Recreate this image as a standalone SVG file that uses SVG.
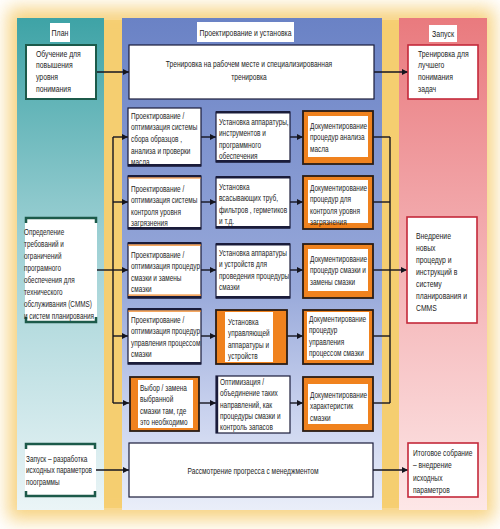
<svg xmlns="http://www.w3.org/2000/svg" width="500" height="529" viewBox="0 0 500 529">
<style>
.t{font-family:"Liberation Sans",Arial,sans-serif;font-size:9.5px;fill:#1c1c1c}
.c{text-anchor:middle}
.ln{stroke:#15151f;stroke-width:1.4;fill:none}
.arr{marker-end:url(#ah)}
.wb{fill:#fff;stroke:#1a1c3a;stroke-width:1.2}
.bar{fill:#1a1c3a}
.ob{fill:#f0821e;stroke:#2a1c14;stroke-width:1.8}
.in{fill:#fff}
.rb{fill:#fff;stroke:#c4283a;stroke-width:1.6}
.gb{fill:#fff;stroke:#1c5a4a;stroke-width:2}
.br{fill:none;stroke:#1c5a4a;stroke-width:2.5}
.ttl{fill:#fff}
</style>
<defs>
<linearGradient id="gL" x1="0" y1="0" x2="0" y2="1"><stop offset="0" stop-color="#3ea3a6"/><stop offset="0.45" stop-color="#9dd0d4"/><stop offset="1" stop-color="#ebf5f7"/></linearGradient>
<linearGradient id="gM" x1="0" y1="0" x2="0" y2="1"><stop offset="0" stop-color="#6a82c5"/><stop offset="0.55" stop-color="#98a9da"/><stop offset="0.8" stop-color="#c9d2ee"/><stop offset="1" stop-color="#eaeef9"/></linearGradient>
<linearGradient id="gR" x1="0" y1="0" x2="0" y2="1"><stop offset="0" stop-color="#e97a7e"/><stop offset="0.4" stop-color="#f2a7aa"/><stop offset="1" stop-color="#fde7e7"/></linearGradient>
<filter id="blur" x="-10%" y="-10%" width="120%" height="120%"><feGaussianBlur stdDeviation="9"/></filter>
<marker id="ah" markerWidth="6" markerHeight="6" refX="6" refY="3" orient="auto" markerUnits="userSpaceOnUse"><path d="M0,0 L6,3 L0,6 z" fill="#15151f"/></marker>
</defs>
<rect width="500" height="529" fill="#fff"/>
<rect x="8" y="8" width="486" height="512" fill="#f4c458" filter="url(#blur)" opacity="0.75"/>
<rect x="104" y="20" width="18" height="488" fill="#f5cc6a" opacity="0.7"/>
<rect x="382" y="20" width="17" height="488" fill="#f5cc6a" opacity="0.7"/>

<g id="panels">
<rect x="17" y="18" width="87" height="492" fill="url(#gL)"/>
<rect x="122" y="18" width="260" height="492" fill="url(#gM)"/>
<rect x="399" y="18" width="88" height="492" fill="url(#gR)"/>
<rect class="ttl" x="50" y="23" width="20" height="19"/>
<text class="t c" transform="translate(60,36) scale(0.74,1)">План</text>
<rect class="ttl" x="197" y="22" width="97" height="20"/>
<text class="t c" transform="translate(245.5,36) scale(0.72,1)">Проектирование и установка</text>
<rect class="ttl" x="429" y="25" width="28" height="17"/>
<text class="t c" transform="translate(443,37) scale(0.74,1)">Запуск</text>
</g>

<g id="connectors">
<line class="ln arr" x1="96" y1="72" x2="129" y2="72"/>
<line class="ln arr" x1="374" y1="72" x2="408" y2="72"/>
<line class="ln arr" x1="96" y1="470" x2="129" y2="470"/>
<line class="ln arr" x1="373" y1="470" x2="408" y2="470"/>
<line class="ln" x1="113" y1="137" x2="113" y2="403"/>
<line class="ln" x1="97" y1="270" x2="113" y2="270"/>
<line class="ln arr" x1="113" y1="137" x2="128" y2="137"/>
<line class="ln arr" x1="113" y1="202" x2="128" y2="202"/>
<line class="ln arr" x1="113" y1="270" x2="128" y2="270"/>
<line class="ln arr" x1="113" y1="336" x2="128" y2="336"/>
<line class="ln arr" x1="113" y1="403" x2="129" y2="403"/>
<line class="ln arr" x1="201" y1="137" x2="216" y2="137"/>
<line class="ln arr" x1="201" y1="202" x2="216" y2="202"/>
<line class="ln arr" x1="201" y1="270" x2="216" y2="270"/>
<line class="ln arr" x1="201" y1="336" x2="216" y2="336"/>
<line class="ln arr" x1="199" y1="403" x2="216" y2="403"/>
<line class="ln arr" x1="290" y1="137" x2="303" y2="137"/>
<line class="ln arr" x1="290" y1="202" x2="303" y2="202"/>
<line class="ln arr" x1="290" y1="270" x2="303" y2="270"/>
<line class="ln arr" x1="287" y1="336" x2="303" y2="336"/>
<line class="ln arr" x1="290" y1="403" x2="303" y2="403"/>
<line class="ln" x1="373" y1="137" x2="390" y2="137"/>
<line class="ln" x1="373" y1="202" x2="390" y2="202"/>
<line class="ln" x1="373" y1="270" x2="390" y2="270"/>
<line class="ln" x1="373" y1="336" x2="390" y2="336"/>
<line class="ln" x1="373" y1="403" x2="390" y2="403"/>
<line class="ln" x1="390" y1="137" x2="390" y2="403"/>
<line class="ln arr" x1="390" y1="270" x2="407" y2="270"/>
</g>

<g id="plan1">
<rect class="gb" x="26" y="45" width="70" height="54"/>
<text class="t" transform="translate(36,56.5) scale(0.72,1)"><tspan x="0" y="0">Обучение для</tspan><tspan x="0" y="12">повышения</tspan><tspan x="0" y="24">уровня</tspan><tspan x="0" y="36">понимания</tspan></text>
</g>
<g id="plan2">
<rect fill="#fff" x="25" y="217" width="72" height="106"/>
<path class="br" d="M26,223 V218 H96 V223 M26,317 V322 H96 V317"/>
<text class="t" transform="translate(24,235) scale(0.67,1)"><tspan x="0" y="0">Определение</tspan><tspan x="0" y="12">требований и</tspan><tspan x="0" y="24">ограничений</tspan><tspan x="0" y="36">програмного</tspan><tspan x="0" y="48">обеспечения для</tspan><tspan x="0" y="60">технического</tspan><tspan x="0" y="72">обслуживания (CMMS)</tspan><tspan x="0" y="84">и систем планирования</tspan></text>
</g>
<g id="plan3">
<rect fill="#fff" x="25" y="443" width="71" height="54"/>
<path class="br" d="M26,449 V444 H95 V449 M26,491 V496 H95 V491"/>
<text class="t" transform="translate(26,462) scale(0.68,1)"><tspan x="0" y="0">Запуск – разработка</tspan><tspan x="0" y="11.5">исходных параметров</tspan><tspan x="0" y="23">поограммы</tspan></text>
</g>

<g id="train">
<rect class="wb" x="129" y="45" width="245" height="54" stroke-width="2"/>
<text class="t c" transform="translate(249,66.5) scale(0.7,1)"><tspan x="0" y="0">Тренировка на рабочем месте и специализированная</tspan><tspan x="0" y="14">тренировка</tspan></text>
</g>

<g id="r1c1">
<rect class="wb" x="128" y="108" width="73" height="58"/>
<rect class="bar" x="128" y="164" width="73" height="2.5"/>
<text class="t" transform="translate(131,118.5) scale(0.68,1)"><tspan x="0" y="0">Проектирование /</tspan><tspan x="0" y="11.7">оптимизация системы</tspan><tspan x="0" y="23.4">сбора образцов ,</tspan><tspan x="0" y="35.1">анализа и проверки</tspan><tspan x="0" y="46.8">масла</tspan></text>
</g>
<g id="r1c2">
<rect class="wb" x="216" y="112" width="74" height="50"/>
<rect class="bar" x="216" y="111" width="74" height="2.5"/>
<rect class="bar" x="216" y="160" width="74" height="2.5"/>
<text class="t" transform="translate(219,125) scale(0.68,1)"><tspan x="0" y="0">Установка аппаратуры,</tspan><tspan x="0" y="11.5">инструментов и</tspan><tspan x="0" y="23">программного</tspan><tspan x="0" y="34.5">обеспечения</tspan></text>
</g>
<g id="r1c3">
<rect class="ob" x="303" y="111" width="70" height="53"/>
<rect class="in" x="308" y="116" width="60" height="41"/>
<text class="t" transform="translate(310,129) scale(0.68,1)"><tspan x="0" y="0">Документирование</tspan><tspan x="0" y="11.5">процедур анализа</tspan><tspan x="0" y="23">масла</tspan></text>
</g>

<g id="r2c1">
<rect class="wb" x="128" y="176" width="73" height="53"/>
<rect class="bar" x="128" y="175" width="73" height="2.5"/>
<rect x="128" y="177.5" width="73" height="1" fill="#f0821e"/>
<rect class="bar" x="128" y="227" width="73" height="2.5"/>
<text class="t" transform="translate(131,192) scale(0.68,1)"><tspan x="0" y="0">Проектирование /</tspan><tspan x="0" y="11.5">оптимизация системы</tspan><tspan x="0" y="23">контроля уровня</tspan><tspan x="0" y="34.5">загрязнения</tspan></text>
</g>
<g id="r2c2">
<rect class="wb" x="216" y="177" width="74" height="51"/>
<rect class="bar" x="216" y="176" width="74" height="2.5"/>
<rect class="bar" x="216" y="226" width="74" height="2.5"/>
<text class="t" transform="translate(219,190) scale(0.68,1)"><tspan x="0" y="0">Установка</tspan><tspan x="0" y="11.5">всасывающих труб,</tspan><tspan x="0" y="23">фильтров , герметиков</tspan><tspan x="0" y="34.5">и т.д.</tspan></text>
</g>
<g id="r2c3">
<rect class="ob" x="303" y="176" width="70" height="53"/>
<rect class="in" x="308" y="180" width="60" height="43"/>
<text class="t" transform="translate(310,191) scale(0.68,1)"><tspan x="0" y="0">Документирование</tspan><tspan x="0" y="11.5">процедур для</tspan><tspan x="0" y="23">контроля уровня</tspan><tspan x="0" y="34.5">загрязнения</tspan></text>
</g>

<g id="r3c1">
<rect class="wb" x="128" y="243" width="73" height="55"/>
<rect class="bar" x="128" y="242" width="73" height="2.5"/>
<rect x="128" y="244.5" width="73" height="1.2" fill="#f0821e"/>
<rect x="128" y="294.5" width="73" height="1.2" fill="#f0821e"/>
<rect class="bar" x="128" y="296" width="73" height="2.5"/>
<text class="t" transform="translate(131,258) scale(0.68,1)"><tspan x="0" y="0">Проектирование /</tspan><tspan x="0" y="11.5">оптимизация процедур</tspan><tspan x="0" y="23">смазки и замены</tspan><tspan x="0" y="34.5">смазки</tspan></text>
</g>
<g id="r3c2">
<rect class="wb" x="216" y="244" width="74" height="54"/>
<rect class="bar" x="216" y="243" width="74" height="2.5"/>
<rect class="bar" x="216" y="296" width="74" height="2.5"/>
<text class="t" transform="translate(219,256) scale(0.68,1)"><tspan x="0" y="0">Установка аппаратуры</tspan><tspan x="0" y="11.5">и устройств для</tspan><tspan x="0" y="23">проведения процедуры</tspan><tspan x="0" y="34.5">смазки</tspan></text>
</g>
<g id="r3c3">
<rect class="ob" x="303" y="244" width="70" height="54"/>
<rect class="in" x="308" y="249" width="60" height="42"/>
<text class="t" transform="translate(310,262) scale(0.68,1)"><tspan x="0" y="0">Документирование</tspan><tspan x="0" y="11.5">процедур смазки и</tspan><tspan x="0" y="23">замены смазки</tspan></text>
</g>

<g id="r4c1">
<rect class="wb" x="128" y="309" width="73" height="55"/>
<rect class="bar" x="128" y="308" width="73" height="2.5"/>
<rect x="128" y="310.5" width="73" height="1.2" fill="#f0821e"/>
<rect class="bar" x="128" y="362" width="73" height="2.5"/>
<text class="t" transform="translate(131,323) scale(0.68,1)"><tspan x="0" y="0">Проектирование /</tspan><tspan x="0" y="11.5">оптимизация процедур</tspan><tspan x="0" y="23">управления процессом</tspan><tspan x="0" y="34.5">смазки</tspan></text>
</g>
<g id="r4c2">
<rect class="ob" x="216" y="310" width="71" height="54"/>
<rect class="in" x="225" y="312" width="48" height="50"/>
<text class="t" transform="translate(228,325) scale(0.68,1)"><tspan x="0" y="0">Установка</tspan><tspan x="0" y="11.5">управляющей</tspan><tspan x="0" y="23">аппаратуры и</tspan><tspan x="0" y="34.5">устройств</tspan></text>
</g>
<g id="r4c3">
<rect class="ob" x="303" y="310" width="70" height="54"/>
<rect class="in" x="307" y="312" width="62" height="48"/>
<text class="t" transform="translate(309,322) scale(0.68,1)"><tspan x="0" y="0">Документирование</tspan><tspan x="0" y="11.5">процедур</tspan><tspan x="0" y="23">управления</tspan><tspan x="0" y="34.5">процессом смазки</tspan></text>
</g>

<g id="r5c1">
<rect class="ob" x="130" y="377" width="69" height="54"/>
<rect class="in" x="138" y="380" width="55" height="48"/>
<text class="t" transform="translate(140,391) scale(0.68,1)"><tspan x="0" y="0">Выбор / замена</tspan><tspan x="0" y="11.5">выбранной</tspan><tspan x="0" y="23">смазки там, где</tspan><tspan x="0" y="34.5">это необходимо</tspan></text>
</g>
<g id="r5c2">
<rect class="wb" x="216" y="376" width="74" height="57"/>
<rect class="bar" x="216" y="376" width="2.2" height="57"/>
<text class="t" transform="translate(220,385) scale(0.68,1)"><tspan x="0" y="0">Оптимизация /</tspan><tspan x="0" y="11.3">объединение таких</tspan><tspan x="0" y="22.6">направлений, как</tspan><tspan x="0" y="33.9">процедуры смазки и</tspan><tspan x="0" y="45.2">контроль запасов</tspan></text>
</g>
<g id="r5c3">
<rect class="ob" x="303" y="377" width="70" height="54"/>
<rect class="in" x="308" y="384" width="60" height="40"/>
<text class="t" transform="translate(310,398) scale(0.68,1)"><tspan x="0" y="0">Документирование</tspan><tspan x="0" y="11.5">характеристик</tspan><tspan x="0" y="23">смазки</tspan></text>
</g>

<g id="review">
<rect class="wb" x="129" y="443" width="244" height="54" stroke-width="2"/>
<text class="t c" transform="translate(253,474) scale(0.7,1)">Рассмотрение прогресса с менеджментом</text>
</g>

<g id="launch1">
<rect class="rb" x="408" y="45" width="70" height="54"/>
<text class="t" transform="translate(418,56.5) scale(0.72,1)"><tspan x="0" y="0">Тренировка для</tspan><tspan x="0" y="12">лучшего</tspan><tspan x="0" y="24">понимания</tspan><tspan x="0" y="36">задач</tspan></text>
</g>
<g id="launch2">
<rect class="rb" x="407" y="217" width="70" height="106"/>
<text class="t" transform="translate(416,239) scale(0.72,1)"><tspan x="0" y="0">Внедрение</tspan><tspan x="0" y="12">новых</tspan><tspan x="0" y="24">процедур и</tspan><tspan x="0" y="36">инструкций в</tspan><tspan x="0" y="48">систему</tspan><tspan x="0" y="60">планирования и</tspan><tspan x="0" y="72">CMMS</tspan></text>
</g>
<g id="launch3">
<rect class="rb" x="408" y="443" width="70" height="54"/>
<text class="t" transform="translate(413,456) scale(0.7,1)"><tspan x="0" y="0">Итоговое собрание</tspan><tspan x="0" y="12.3">– внедрение</tspan><tspan x="0" y="24.6">исходных</tspan><tspan x="0" y="36.9">параметров</tspan></text>
</g>
</svg>
